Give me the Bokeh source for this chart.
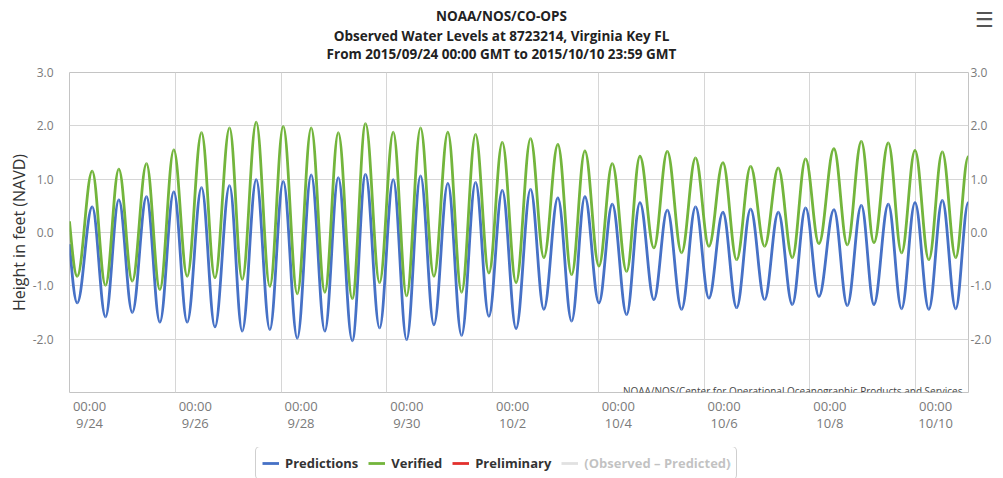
import numpy as np
import pandas as pd
from bokeh.plotting import figure
from bokeh.layouts import column
from bokeh.models import (Range1d, FixedTicker, LinearAxis, Label,
                          ColumnDataSource, Legend, LegendItem, NumeralTickFormatter)
from bokeh.embed import file_html
from bokeh.resources import INLINE

# ---------------- data ----------------
# record start, successive low / high waters (GMT), record end
times = [
    "2015-09-24 00:00",
    "2015-09-24 03:30", "2015-09-24 10:18", "2015-09-24 16:20", "2015-09-24 22:23",
    "2015-09-25 04:30", "2015-09-25 10:57", "2015-09-25 17:00", "2015-09-25 23:20",
    "2015-09-26 05:25", "2015-09-26 11:55", "2015-09-26 18:00", "2015-09-27 00:38",
    "2015-09-27 06:23", "2015-09-27 12:45", "2015-09-27 18:55", "2015-09-28 01:00",
    "2015-09-28 07:22", "2015-09-28 13:42", "2015-09-28 19:53", "2015-09-29 02:00",
    "2015-09-29 08:19", "2015-09-29 14:22", "2015-09-29 20:43", "2015-09-30 02:56",
    "2015-09-30 09:00", "2015-09-30 15:19", "2015-09-30 21:23", "2015-10-01 03:43",
    "2015-10-01 09:56", "2015-10-01 16:17", "2015-10-01 22:20", "2015-10-02 04:25",
    "2015-10-02 10:40", "2015-10-02 17:15", "2015-10-02 23:17", "2015-10-03 05:38",
    "2015-10-03 11:53", "2015-10-03 17:54", "2015-10-04 00:16", "2015-10-04 06:20",
    "2015-10-04 12:50", "2015-10-04 18:53", "2015-10-05 01:13", "2015-10-05 07:18",
    "2015-10-05 13:47", "2015-10-05 20:08", "2015-10-06 02:11", "2015-10-06 08:32",
    "2015-10-06 14:46", "2015-10-06 21:07", "2015-10-07 03:28", "2015-10-07 09:40",
    "2015-10-07 16:02", "2015-10-07 22:05", "2015-10-08 04:07", "2015-10-08 10:55",
    "2015-10-08 17:00", "2015-10-08 23:22", "2015-10-09 05:05", "2015-10-09 11:36",
    "2015-10-09 17:38", "2015-10-09 23:43", "2015-10-10 06:00", "2015-10-10 12:07",
    "2015-10-10 18:12",
    "2015-10-10 23:54",
]

predictions = [
    -0.22,
    -1.32, 0.48, -1.58, 0.61, -1.50, 0.67, -1.68, 0.76,
    -1.68, 0.84, -1.77, 0.88, -1.85, 0.99, -1.82, 0.96,
    -1.98, 1.08, -1.85, 1.03, -2.03, 1.09, -1.79, 0.99,
    -2.01, 1.06, -1.73, 0.92, -1.93, 0.94, -1.57, 0.79,
    -1.80, 0.81, -1.44, 0.65, -1.66, 0.67, -1.32, 0.53,
    -1.54, 0.56, -1.26, 0.42, -1.44, 0.48, -1.23, 0.38,
    -1.41, 0.44, -1.26, 0.38, -1.35, 0.46, -1.20, 0.43,
    -1.37, 0.51, -1.35, 0.53, -1.43, 0.56, -1.44, 0.60,
    -1.43,
    0.56,
]

verified = [
    0.21,
    -0.82, 1.15, -0.99, 1.19, -0.91, 1.29, -1.07, 1.55,
    -0.82, 1.87, -0.85, 1.96, -0.88, 2.07, -1.01, 1.99,
    -1.15, 1.96, -1.12, 1.87, -1.24, 2.04, -0.94, 1.88,
    -1.19, 1.96, -0.82, 1.88, -1.12, 1.84, -0.76, 1.69,
    -0.94, 1.76, -0.47, 1.65, -0.79, 1.53, -0.63, 1.29,
    -0.73, 1.43, -0.29, 1.52, -0.38, 1.40, -0.26, 1.31,
    -0.51, 1.24, -0.26, 1.21, -0.47, 1.38, -0.21, 1.57,
    -0.23, 1.71, -0.19, 1.68, -0.38, 1.54, -0.51, 1.51,
    -0.47,
    1.42,
]

tick_dates = ["2015-09-24", "2015-09-26", "2015-09-28", "2015-09-30", "2015-10-02",
              "2015-10-04", "2015-10-06", "2015-10-08", "2015-10-10"]
tick_days = ["9/24", "9/26", "9/28", "9/30", "10/2", "10/4", "10/6", "10/8", "10/10"]
tick_times = ["00:00"] * len(tick_dates)
y_ticks = [-2, -1, 0, 1, 2, 3]

x_start, x_end = "2015-09-24 00:00", "2015-10-11 00:00"
y_min, y_max = -3, 3

title_lines = ["NOAA/NOS/CO-OPS",
               "Observed Water Levels at 8723214, Virginia Key FL",
               "From 2015/09/24 00:00 GMT to 2015/10/10 23:59 GMT"]
credit = "NOAA/NOS/Center for Operational Oceanographic Products and Services"
series_names = ["Predictions", "Verified", "Preliminary", "(Observed \u2013 Predicted)"]

FONT = "Open Sans"
BLUE, GREEN, RED, GREY = "#4671c6", "#73b53c", "#e3302d", "#999999"


def to_ms(strs):
    return ((pd.to_datetime(strs) - pd.Timestamp("1970-01-01"))
            / pd.Timedelta(milliseconds=1)).to_numpy(dtype=float)


def tide_source(t, levels, k=0.3642):
    """Cubic Bezier segments between successive turning points
    (flat tangent at each high / low water)."""
    x = to_ms(t)
    y = np.asarray(levels, dtype=float)
    x0, x1, y0, y1 = x[:-1], x[1:], y[:-1], y[1:]
    dx = x1 - x0
    cx0 = x0 + k * dx
    cy0 = y0.copy()
    # the record starts mid-fall, not at a turning point
    cx0[0] = x0[0] + dx[0] / 3.0
    cy0[0] = y0[0] + 0.5 * (y1[0] - y0[0])
    return ColumnDataSource(dict(x0=x0, y0=y0, x1=x1, y1=y1,
                                 cx0=cx0, cy0=cy0, cx1=x1 - k * dx, cy1=y1))


def no_frame_align(f):
    if "frame_align" in f.properties():
        f.frame_align = False


def blank_panel(height):
    f = figure(width=W, height=height, x_range=Range1d(0, 1), y_range=Range1d(0, 1),
               x_axis_location=None, y_axis_location=None,
               output_backend="svg", toolbar_location=None,
               min_border=0, min_border_left=0, min_border_right=0,
               min_border_top=0, min_border_bottom=0)
    f.grid.visible = False
    f.outline_line_color = None
    f.background_fill_color = "white"
    f.border_fill_color = "white"
    no_frame_align(f)
    return f


W = 1003
H_TOP, H_MAIN, H_LEG = 62, 385, 31
FL, FR = 69, 968                # frame left / right
FT, FB = 10, 330                # frame top / bottom inside the main figure

# ---------------- header (titles + menu icon) ----------------
top = blank_panel(H_TOP)
for txt, cy in zip(title_lines, (15, 35, 53)):
    top.add_layout(Label(x=501, y=H_TOP - cy, x_units="screen", y_units="screen",
                         text=txt, text_align="center", text_baseline="middle",
                         text_font=FONT, text_font_size="13.5px", text_font_style="bold",
                         text_color="#222222"))
top.add_layout(Label(x=984, y=H_TOP - 19, x_units="screen", y_units="screen",
                     text="\u2630", text_align="center", text_baseline="middle",
                     text_font="DejaVu Sans", text_font_size="21px", text_font_style="bold",
                     text_color="#555555"))

# ---------------- main chart ----------------
xs = to_ms([x_start, x_end])
p = figure(width=W, height=H_MAIN, x_axis_type="datetime",
           x_range=Range1d(xs[0], xs[1]), y_range=Range1d(y_min, y_max),
           x_axis_location=None, y_axis_location=None,
           output_backend="svg", toolbar_location=None,
           min_border_left=FL, min_border_right=W - FR,
           min_border_top=FT, min_border_bottom=H_MAIN - FB)
no_frame_align(p)
p.background_fill_color = "white"
p.border_fill_color = "white"
p.outline_line_color = "#c4c4c4"
p.outline_line_width = 1

tick_ms = [float(v) for v in to_ms(tick_dates)]
p.xgrid.ticker = FixedTicker(ticks=tick_ms)
p.ygrid.ticker = FixedTicker(ticks=y_ticks)
for g in (p.xgrid[0], p.ygrid[0]):
    g.grid_line_color = "#d6d6d6"
    g.grid_line_width = 1

# label range: x tick labels sit to the right of their grid line
px_ms = (xs[1] - xs[0]) / (FR - FL)
x_shift = 20 * px_ms
p.extra_x_ranges = {"lbl": Range1d(xs[0] - x_shift, xs[1] - x_shift)}

xaxis = LinearAxis(x_range_name="lbl", ticker=FixedTicker(ticks=tick_ms),
                   major_label_overrides={t: f"{hh}\n{d}" for t, hh, d in
                                          zip(tick_ms, tick_times, tick_days)})
xaxis.major_tick_out = 0
xaxis.major_tick_in = 0
xaxis.minor_tick_out = 0
xaxis.minor_tick_in = 0
xaxis.axis_line_color = None
xaxis.major_label_standoff = 4
xaxis.major_label_text_font = FONT
xaxis.major_label_text_font_size = "13px"
xaxis.major_label_text_line_height = 0.95
xaxis.major_label_text_color = "#7a7a7a"
p.add_layout(xaxis, "below")


def style_y(ax, standoff):
    ax.ticker = FixedTicker(ticks=y_ticks)
    ax.formatter = NumeralTickFormatter(format="0.0")
    ax.major_tick_out = 0
    ax.major_tick_in = 0
    ax.minor_tick_out = 0
    ax.minor_tick_in = 0
    ax.axis_line_color = None
    ax.major_label_standoff = standoff
    ax.major_label_text_font = FONT
    ax.major_label_text_font_size = "12px"
    ax.major_label_text_color = "#7a7a7a"


left_axis = LinearAxis()
style_y(left_axis, 16)
left_axis.axis_label = "Height in feet (NAVD)"
left_axis.axis_label_text_font = FONT
left_axis.axis_label_text_font_size = "16px"
left_axis.axis_label_text_font_style = "normal"
left_axis.axis_label_text_color = "#333333"
left_axis.axis_label_standoff = 0
p.add_layout(left_axis, "left")

right_axis = LinearAxis()
style_y(right_axis, 2)
p.add_layout(right_axis, "right")

src_pred = tide_source(times, predictions)
src_ver = tide_source(times, verified)
bez = dict(x0="x0", y0="y0", x1="x1", y1="y1", cx0="cx0", cy0="cy0", cx1="cx1", cy1="cy1")
p.bezier(source=src_pred, line_color=BLUE, line_width=2.8, **bez)
p.bezier(source=src_ver, line_color=GREEN, line_width=2.8, **bez)

p.add_layout(Label(x=962 - FL, y=2, x_units="screen", y_units="screen",
                   text=credit, text_align="right", text_baseline="alphabetic",
                   text_font=FONT, text_font_size="10px", text_color="#444444"))

# ---------------- legend strip ----------------
leg = blank_panel(H_LEG)
nan = float("nan")
keys = [leg.line(x=[nan], y=[nan], line_color=c, line_width=2.8)
        for c in (BLUE, GREEN, RED, GREY)]
keys[3].visible = False          # hidden series, shown greyed out
legend = Legend(items=[LegendItem(label=n, renderers=[r]) for n, r in zip(series_names, keys)],
                orientation="horizontal", location=(255, -2),
                click_policy="hide", inactive_fill_color="white", inactive_fill_alpha=0.7,
                label_text_font=FONT, label_text_font_size="13px",
                label_text_font_style="bold", label_text_color="#333333",
                glyph_width=17, glyph_height=14, label_standoff=6, spacing=10,
                padding=6, margin=0, label_height=20,
                border_line_color="#a0a0a0", border_line_width=1,
                background_fill_color="white", background_fill_alpha=1)
if "border_radius" in Legend.properties():
    legend.border_radius = 5
leg.add_layout(legend)

layout = column(top, p, leg, spacing=0)
open("out.html", "w").write(file_html(layout, INLINE))
